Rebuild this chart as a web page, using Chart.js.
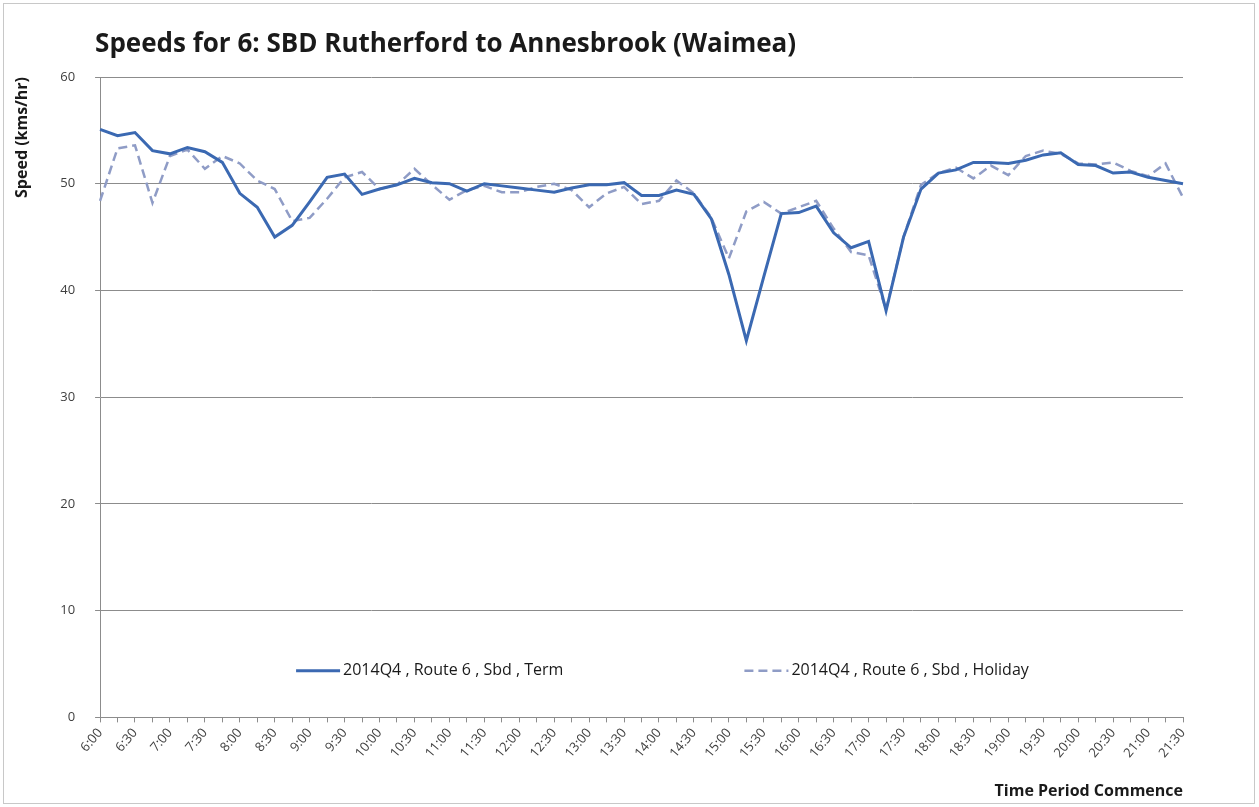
<!DOCTYPE html>
<html>
<head>
<meta charset="utf-8">
<title>Speeds for 6: SBD Rutherford to Annesbrook (Waimea)</title>
<script src="https://cdn.jsdelivr.net/npm/chart.js@4.4.1/dist/chart.umd.min.js"></script>
<style>
  html, body { margin: 0; padding: 0; background: #fff; }
  #wrap { width: 1259px; height: 807px; }
</style>
</head>
<body>
<div id="wrap"><canvas id="speedChart" width="1259" height="807"></canvas></div>
<script>
const chartTitle = 'Speeds for 6: SBD Rutherford to Annesbrook (Waimea)';

// 15 minute periods, labelled on the half hour
const timeLabels = [
  '6:00', '6:15', '6:30', '6:45', '7:00', '7:15', '7:30', '7:45',
  '8:00', '8:15', '8:30', '8:45', '9:00', '9:15', '9:30', '9:45',
  '10:00', '10:15', '10:30', '10:45', '11:00', '11:15', '11:30', '11:45',
  '12:00', '12:15', '12:30', '12:45', '13:00', '13:15', '13:30', '13:45',
  '14:00', '14:15', '14:30', '14:45', '15:00', '15:15', '15:30', '15:45',
  '16:00', '16:15', '16:30', '16:45', '17:00', '17:15', '17:30', '17:45',
  '18:00', '18:15', '18:30', '18:45', '19:00', '19:15', '19:30', '19:45',
  '20:00', '20:15', '20:30', '20:45', '21:00', '21:15', '21:30'
];

const termSpeeds = [
  55.1, 54.5, 54.8, 53.1, 52.8, 53.4, 53.0, 52.0, 49.1, 47.8,
  45.0, 46.1, 48.3, 50.6, 50.9, 49.0, 49.5, 49.9, 50.5, 50.1,
  50.0, 49.3, 50.0, 49.8, 49.6, 49.4, 49.2, 49.6, 49.9, 49.9,
  50.1, 48.9, 48.9, 49.4, 49.0, 46.7, 41.5, 35.3, 41.3, 47.2,
  47.3, 47.9, 45.4, 44.0, 44.6, 38.1, 45.0, 49.5, 51.0, 51.3,
  52.0, 52.0, 51.9, 52.2, 52.7, 52.9, 51.8, 51.7, 51.0, 51.1,
  50.6, 50.3, 50.0
];

const holidaySpeeds = [
  48.4, 53.3, 53.6, 48.2, 52.6, 53.2, 51.4, 52.6, 51.9, 50.3,
  49.5, 46.5, 46.8, 48.6, 50.6, 51.1, 49.5, 49.9, 51.4, 49.9,
  48.5, 49.4, 49.8, 49.2, 49.2, 49.7, 50.0, 49.4, 47.8, 49.1,
  49.7, 48.1, 48.4, 50.3, 49.1, 46.8, 43.0, 47.4, 48.3, 47.2,
  47.8, 48.4, 45.8, 43.6, 43.3, 38.2, 45.0, 49.9, 51.0, 51.5,
  50.5, 51.7, 50.8, 52.6, 53.1, 52.8, 51.9, 51.8, 52.0, 51.2,
  50.7, 51.9, 48.7
];

const seriesNames = [
  '2014Q4 , Route 6 , Sbd , Term',
  '2014Q4 , Route 6 , Sbd , Holiday'
];

const speedMin = 0;
const speedMax = 60;
const speedStep = 10;

const gridGrey = '#8c8c8c';
const textGrey = '#404040';

// white page, thin frame, heading and the in-plot legend
const frameAndLegend = {
  id: 'frameAndLegend',
  beforeDraw(chart) {
    const ctx = chart.ctx;
    ctx.save();
    ctx.fillStyle = '#ffffff';
    ctx.fillRect(0, 0, chart.width, chart.height);
    ctx.strokeStyle = '#c8c8c8';
    ctx.lineWidth = 1;
    ctx.strokeRect(3.5, 3.5, chart.width - 8, chart.height - 7);
    ctx.restore();
  },
  afterDraw(chart) {
    const ctx = chart.ctx;
    const area = chart.chartArea;
    ctx.save();

    ctx.fillStyle = '#1a1a1a';
    ctx.font = 'bold 26px "Open Sans", sans-serif';
    ctx.textBaseline = 'middle';
    ctx.textAlign = 'left';
    ctx.fillText(chartTitle, area.left - 5, 45);

    const legendY = area.top + (area.bottom - area.top) * 0.927;
    const starts = [0.181, 0.595];
    ctx.font = '16px "Open Sans", sans-serif';
    chart.data.datasets.forEach((ds, i) => {
      const x0 = area.left + (area.right - area.left) * starts[i];
      ctx.beginPath();
      ctx.strokeStyle = ds.borderColor;
      ctx.lineWidth = ds.borderWidth;
      ctx.setLineDash(ds.borderDash || []);
      ctx.moveTo(x0, legendY);
      ctx.lineTo(x0 + 44, legendY);
      ctx.stroke();
      ctx.setLineDash([]);
      ctx.fillStyle = '#1a1a1a';
      ctx.fillText(ds.label, x0 + 47, legendY);
    });
    ctx.restore();
  }
};

const ctx = document.getElementById('speedChart').getContext('2d');

new Chart(ctx, {
  type: 'line',
  data: {
    labels: timeLabels,
    datasets: [
      {
        label: seriesNames[0],
        data: termSpeeds,
        borderColor: '#3b69b2',
        backgroundColor: '#3b69b2',
        borderWidth: 3,
        pointRadius: 0,
        tension: 0,
        fill: false
      },
      {
        label: seriesNames[1],
        data: holidaySpeeds,
        borderColor: '#8f9cc6',
        backgroundColor: '#8f9cc6',
        borderWidth: 2.5,
        borderDash: [9, 5],
        pointRadius: 0,
        tension: 0,
        fill: false
      }
    ]
  },
  options: {
    responsive: false,
    animation: false,
    layout: {
      padding: { top: 77, left: 13, right: 76, bottom: 6 }
    },
    plugins: {
      legend: { display: false },
      title: { display: false },
      tooltip: { enabled: false }
    },
    scales: {
      x: {
        type: 'category',
        offset: false,
        grid: {
          drawOnChartArea: false,
          drawTicks: true,
          tickLength: 5,
          color: gridGrey
        },
        border: { display: true, color: gridGrey },
        ticks: {
          autoSkip: false,
          maxRotation: 50,
          minRotation: 50,
          color: textGrey,
          font: { size: 13, family: '"Open Sans", sans-serif' },
          callback: function (value, index) {
            return index % 2 === 0 ? this.getLabelForValue(value) : '';
          }
        },
        title: {
          display: true,
          text: 'Time Period Commence',
          align: 'end',
          color: '#1a1a1a',
          font: { size: 16, weight: 'bold', family: '"Open Sans", sans-serif' },
          padding: { top: 18, bottom: 0 }
        }
      },
      y: {
        min: speedMin,
        max: speedMax,
        grid: {
          color: gridGrey,
          drawTicks: true,
          tickLength: 5
        },
        border: { display: true, color: gridGrey },
        ticks: {
          stepSize: speedStep,
          padding: 20,
          color: textGrey,
          font: { size: 13, family: '"Open Sans", sans-serif' }
        },
        title: {
          display: true,
          text: 'Speed (kms/hr)',
          align: 'end',
          color: '#1a1a1a',
          font: { size: 16, weight: 'bold', family: '"Open Sans", sans-serif' },
          padding: { top: 0, bottom: 8 }
        }
      }
    }
  },
  plugins: [frameAndLegend]
});
</script>
</body>
</html>
